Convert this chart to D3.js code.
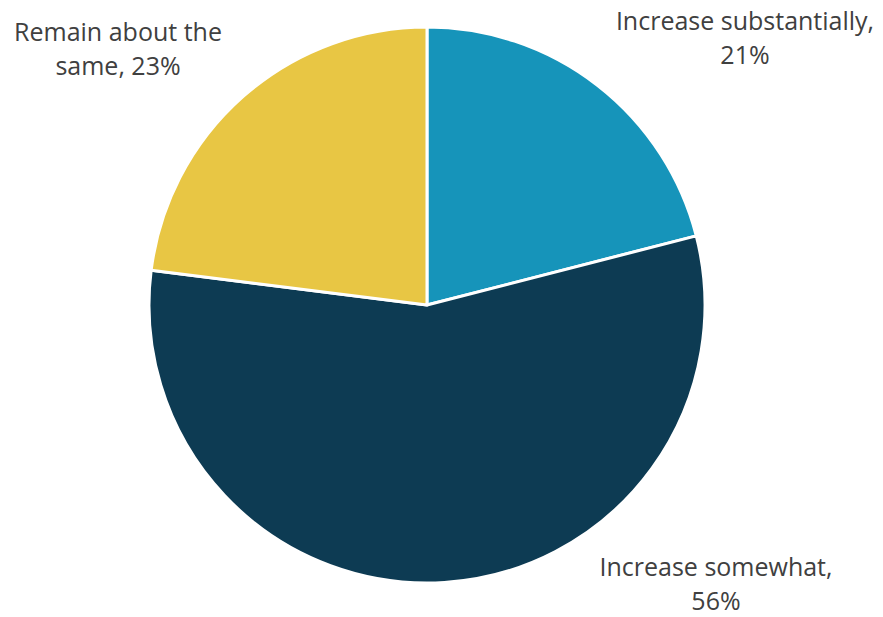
<!DOCTYPE html>
<html>
<head>
<meta charset="utf-8">
<script src="https://cdn.jsdelivr.net/npm/d3@7"></script>
<style>
  html, body { margin: 0; padding: 0; background: #ffffff; }
  svg { display: block; }
</style>
</head>
<body>
<svg id="chart" width="883" height="617"></svg>
<script>
// Survey responses, share of respondents (%)
const categories = ["Increase substantially", "Increase somewhat", "Remain about the same"];
const values = [21, 56, 23];
const colors = ["#1694BA", "#0D3B53", "#E8C644"];
// Label lines for each slice
const labelLines = [
  ["Increase substantially,", "21%"],
  ["Increase somewhat,", "56%"],
  ["Remain about the", "same, 23%"]
];
const labelPos = [
  { x: 745, y: 30 },
  { x: 716, y: 576 },
  { x: 118, y: 41 }
];

const svg = d3.select("#chart");
const cx = 427, cy = 305, radius = 278;

const pie = d3.pie().sort(null).value(d => d.value);
const arc = d3.arc().innerRadius(0).outerRadius(radius);

const data = categories.map((c, i) => ({ name: c, value: values[i], color: colors[i] }));

const g = svg.append("g").attr("transform", `translate(${cx},${cy})`);
g.selectAll("path")
  .data(pie(data))
  .join("path")
  .attr("d", arc)
  .attr("fill", d => d.data.color)
  .attr("stroke", "#ffffff")
  .attr("stroke-width", 3)
  .attr("stroke-linejoin", "round");

const lineGap = 34;
labelLines.forEach((lines, i) => {
  const t = svg.append("text")
    .attr("x", labelPos[i].x)
    .attr("y", labelPos[i].y)
    .attr("text-anchor", "middle")
    .attr("font-family", "'Source Sans Pro', 'Open Sans', sans-serif")
    .attr("font-size", 25)
    .attr("fill", "#404040");
  lines.forEach((ln, j) => {
    t.append("tspan")
      .attr("x", labelPos[i].x)
      .attr("dy", j === 0 ? 0 : lineGap)
      .text(ln);
  });
});
</script>
</body>
</html>
